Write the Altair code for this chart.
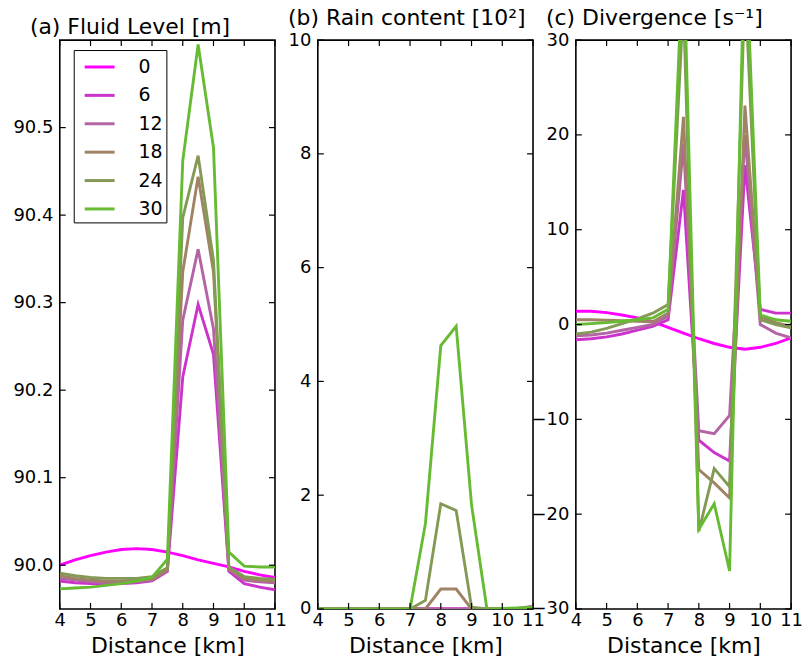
import altair as alt
import pandas as pd

# ---------------- data ----------------
X = [4, 4.5, 5, 5.5, 6, 6.5, 7, 7.5, 8, 8.5, 9, 9.5, 10, 10.5, 11]
TIMES = [0, 6, 12, 18, 24, 30]
COLORS = ["#ff00ff", "#cc33cc", "#b464a5", "#a08264", "#849955", "#66bb33"]

LEVEL = {
    0:  [90.000, 90.006, 90.011, 90.015, 90.018, 90.019, 90.018, 90.015, 90.011, 90.006, 90.002, 89.998, 89.993, 89.989, 89.986],
    6:  [89.982, 89.980, 89.979, 89.979, 89.979, 89.980, 89.982, 89.993, 90.215, 90.298, 90.241, 89.993, 89.979, 89.975, 89.972],
    12: [89.985, 89.983, 89.981, 89.980, 89.980, 89.981, 89.983, 89.994, 90.280, 90.361, 90.270, 89.995, 89.983, 89.981, 89.980],
    18: [89.988, 89.985, 89.983, 89.982, 89.982, 89.983, 89.984, 89.995, 90.335, 90.444, 90.335, 89.996, 89.985, 89.983, 89.982],
    24: [89.991, 89.988, 89.986, 89.985, 89.985, 89.985, 89.987, 89.997, 90.397, 90.468, 90.348, 89.998, 89.987, 89.985, 89.984],
    30: [89.973, 89.974, 89.975, 89.977, 89.979, 89.982, 89.986, 90.007, 90.462, 90.595, 90.477, 90.015, 89.999, 89.998, 89.998],
}
RAIN = {
    0:  [0, 0, 0, 0, 0, 0, 0, 0, 0, 0, 0, 0, 0, 0, 0],
    6:  [0, 0, 0, 0, 0, 0, 0, 0, 0, 0, 0, 0, 0, 0, 0],
    12: [0, 0, 0, 0, 0, 0, 0, 0, 0, 0, 0, 0, 0, 0.01, 0.05],
    18: [0, 0, 0, 0, 0, 0, 0, 0, 0.35, 0.35, 0, 0, 0, 0, 0],
    24: [0, 0, 0, 0, 0, 0, 0, 0.15, 1.85, 1.73, 0.03, 0, 0, 0, 0],
    30: [0, 0, 0, 0, 0, 0, 0, 1.50, 4.63, 4.97, 1.83, 0, 0.01, 0.02, 0.03],
}
DIV = {
    0:  [1.4, 1.4, 1.25, 1.0, 0.7, 0.3, -0.3, -0.9, -1.5, -2.0, -2.4, -2.6, -2.4, -2.0, -1.4],
    6:  [-1.6, -1.5, -1.3, -1.0, -0.6, -0.2, 0.5, 14.2, -12.2, -13.5, -14.4, 16.8, 1.6, 1.2, 1.2],
    12: [-1.2, -1.1, -0.9, -0.6, -0.3, 0.0, 0.9, 19.0, -11.2, -11.5, -9.6, 20.0, 0.0, -0.9, -1.4],
    18: [0.5, 0.5, 0.45, 0.4, 0.35, 0.3, 1.2, 21.9, -15.3, -16.7, -18.3, 23.1, 0.8, 0.2, -0.2],
    24: [-1.0, -0.8, -0.4, 0.1, 0.6, 1.2, 2.1, 34.0, -21.8, -15.2, -17.1, 36.0, 0.5, 0.0, -0.35],
    30: [0.0, 0.1, 0.2, 0.35, 0.5, 0.7, 1.6, 40.0, -21.6, -18.9, -26.0, 42.0, 1.0, 0.5, 0.35],
}

X_TICKS = [4, 5, 6, 7, 8, 9, 10, 11]
LEVEL_TICKS = [90.0, 90.1, 90.2, 90.3, 90.4, 90.5]
RAIN_TICKS = [0, 2, 4, 6, 8, 10]
DIV_TICKS = [-30, -20, -10, 0, 10, 20, 30]

TITLES = ["(a) Fluid Level [m]", "(b) Rain content [10\u00b2]", "(c) Divergence [s\u207b\u00b9]"]

# ---------------- layout ----------------
W, H = 216, 571
FONT = "DejaVu Sans"
TICK = 6


def long_df(series):
    rows = []
    for t in TIMES:
        for x, v in zip(X, series[t]):
            rows.append({"x": x, "t": t, "v": v})
    return pd.DataFrame(rows)


def panel(series, ydomain, yticks, yfmt, title, show_legend):
    xs = alt.Scale(domain=[4, 11], nice=False, zero=False)
    ys = alt.Scale(domain=ydomain, nice=False, zero=False)
    xaxis = alt.Axis(values=X_TICKS, title="Distance [km]", format="d")
    yaxis = alt.Axis(values=yticks, format=yfmt, title=None)
    xenc = alt.X("x:Q", scale=xs, axis=xaxis)
    yenc = alt.Y("v:Q", scale=ys, axis=yaxis)
    if show_legend:
        legend = alt.Legend(
            orient="none", legendX=14, legendY=10, title=None,
            symbolType="M-1.2,0H1.2", symbolSize=625, symbolStrokeWidth=3,
            symbolOffset=9, labelOffset=25, padding=3, rowPadding=4.5,
            labelFontSize=19, labelFont=FONT, labelColor="black",
            strokeColor="black", fillColor="white",
        )
    else:
        legend = None
    lines = alt.Chart(long_df(series)).mark_line(strokeWidth=2.9, clip=True).encode(
        x=xenc, y=yenc,
        color=alt.Color("t:O", scale=alt.Scale(domain=TIMES, range=COLORS), legend=legend),
    )
    xt = pd.DataFrame({"x": X_TICKS})
    yt = pd.DataFrame({"v": yticks})
    rule = dict(color="black", strokeWidth=1.2)
    bottom = alt.Chart(xt).mark_rule(**rule).encode(x=xenc, y=alt.value(H), y2=alt.value(H - TICK))
    top = alt.Chart(xt).mark_rule(**rule).encode(x=xenc, y=alt.value(0), y2=alt.value(TICK))
    left = alt.Chart(yt).mark_rule(**rule).encode(y=yenc, x=alt.value(0), x2=alt.value(TICK))
    right = alt.Chart(yt).mark_rule(**rule).encode(y=yenc, x=alt.value(W), x2=alt.value(W - TICK))
    return alt.layer(lines, bottom, top, left, right).properties(
        width=W, height=H,
        title=alt.TitleParams(title, anchor="start", frame="group", dx=-30, offset=-16,
                              baseline="alphabetic", fontSize=22, font=FONT,
                              fontWeight="normal", color="black"),
    )


pa = panel(LEVEL, [89.95, 90.6], LEVEL_TICKS, ".1f", TITLES[0], True)
pb = panel(RAIN, [0, 10], RAIN_TICKS, "d", TITLES[1], False)
pc = panel(DIV, [-30, 30], DIV_TICKS, "d", TITLES[2], False)

chart = alt.hconcat(pa, pb, pc, spacing=43, bounds="flush").properties(
    padding={"left": 12, "top": 5, "right": 4, "bottom": 4},
).configure_view(
    stroke="black", strokeWidth=1.6
).configure_axis(
    labelFont=FONT, labelFontSize=18, labelColor="black",
    titleFont=FONT, titleFontSize=22, titleFontWeight="normal", titleColor="black",
    tickSize=0, domain=False, grid=False, labelFlush=False, labelOverlap=False,
).configure_axisX(
    labelPadding=3, titlePadding=6,
).configure_axisY(
    labelPadding=7,
)

chart.save("out.html", embed_options={"renderer": "svg", "actions": False})
